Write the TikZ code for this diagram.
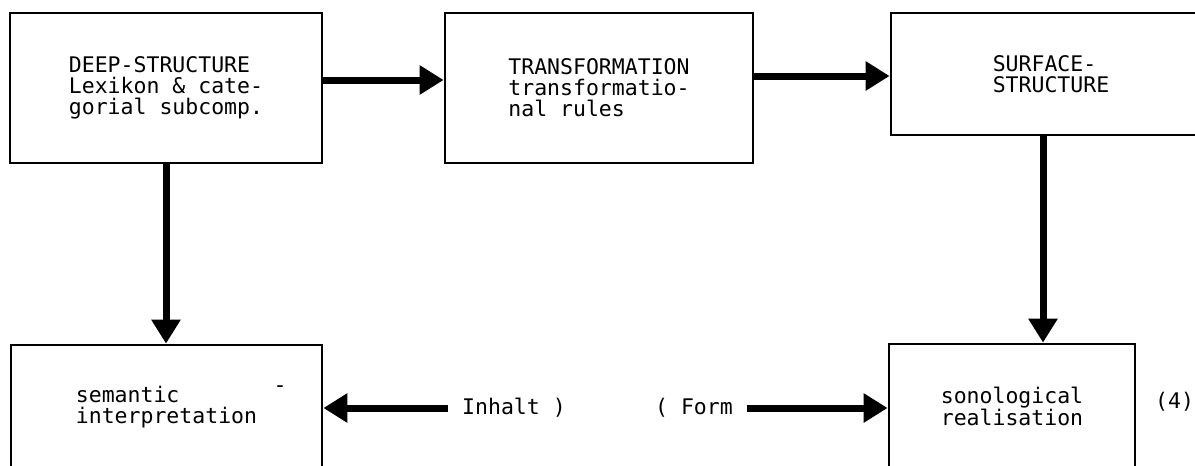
\documentclass[tikz,border=0pt]{standalone}
\usepackage{fontspec}
\setmonofont{DejaVu Sans Mono}
\usepackage{tikz}
\usetikzlibrary{positioning,arrows.meta}

\begin{document}
\begin{tikzpicture}[
    x=1pt, y=-1pt,
    box/.style={ % Kasten des Modells
        draw=black,
        line width=2.8pt,
        inner sep=0pt,
        align=left,
        font=\ttfamily\fontsize{21.5}{21}\selectfont,
        anchor=center
    },
    lbl/.style={ % freie Beschriftung an den Pfeilen
        inner sep=0pt,
        font=\ttfamily\fontsize{21.5}{21}\selectfont
    },
    flow/.style={ % dicker Pfeil zwischen den Kaesten
        -{Triangle[length=24pt, width=28pt]},
        line width=7pt
    }
    ]

    \useasboundingbox (0,0) rectangle (1195,466);
    \clip (0,0) rectangle (1195,466);

    % ================= OBERE REIHE =================
    \node[box, minimum width=312pt, minimum height=150pt] (deep) at (166,88)
        {DEEP-STRUCTURE\\Lexikon \& cate-\\gorial subcomp.};
    \node[box, minimum width=308pt, minimum height=150pt] (trans) at (599,88)
        {TRANSFORMATION\\transformatio-\\nal rules};
    \node[box, minimum width=320pt, minimum height=122pt] (surf) at (1051,74)
        {SURFACE-\\STRUCTURE};

    % Pfeile oben
    \draw[flow] ([yshift=8pt]deep.east) -- ([yshift=8pt]trans.west);
    \draw[flow] ([yshift=12pt]trans.east) -- ([yshift=-2pt]surf.west);

    % ================= UNTERE REIHE =================
    \node[box, minimum width=311pt, minimum height=125pt] (sem) at (166.5,407.5)
        {semantic\\interpretation};
    \node[box, minimum width=246pt, minimum height=124pt] (sono) at (1012,406)
        {sonological\\realisation};
    \node[lbl] (stray) at (280,389) {-};

    % Pfeile nach unten
    \draw[flow] (deep.south) -- (deep.south |- sem.north);
    \draw[flow] ([xshift=-8pt]surf.south) -- ([xshift=-8pt]surf.south |- sono.north);

    % Inhalt / Form
    \node[lbl, anchor=west] (inhalt) at (462,408) {Inhalt )};
    \draw[flow, shorten <=14pt] (inhalt.west) -- (sem.east |- inhalt.west);

    \node[lbl, anchor=east] (form) at (733,408) {( Form};
    \draw[flow, shorten <=14pt] (form.east) -- (sono.west |- form.east);

    \node[lbl, anchor=west] (nr) at (1155,402) {(4)};

\end{tikzpicture}
\end{document}
